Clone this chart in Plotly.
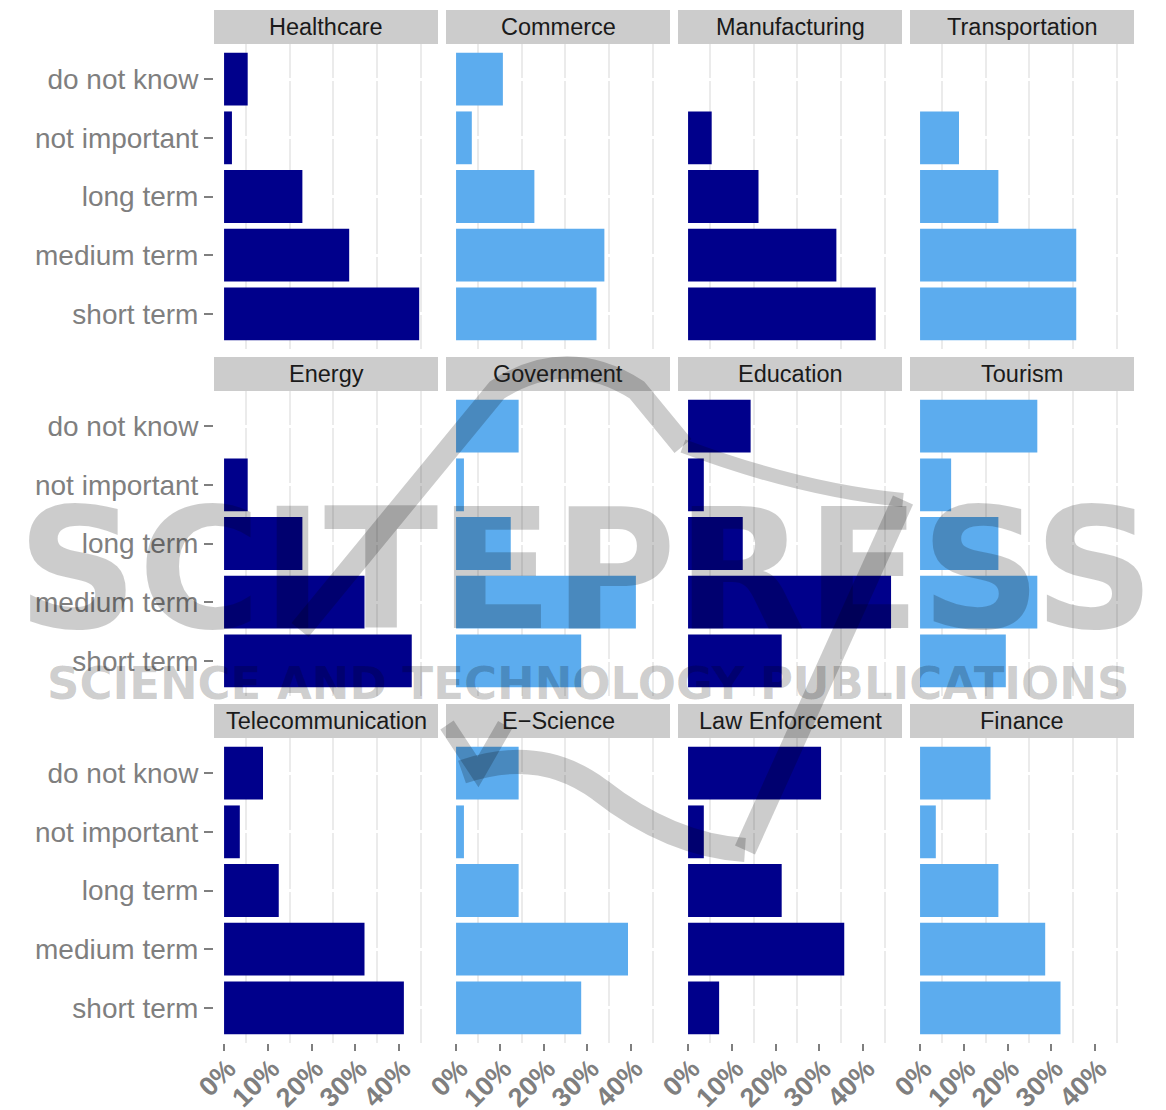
import plotly.graph_objects as go

# Survey answers per sector (share of respondents, %)
categories = ["do not know", "not important", "long term", "medium term", "short term"]

sectors = ["Healthcare", "Commerce", "Manufacturing", "Transportation",
           "Energy", "Government", "Education", "Tourism",
           "Telecommunication", "E\u2212Science", "Law Enforcement", "Finance"]

healthcare = [5.4, 1.8, 17.9, 28.6, 44.6]
commerce = [10.7, 3.6, 17.9, 33.9, 32.1]
manufacturing = [0.0, 5.4, 16.1, 33.9, 42.9]
transportation = [0.0, 8.9, 17.9, 35.7, 35.7]
energy = [0.0, 5.4, 17.9, 32.1, 42.9]
government = [14.3, 1.8, 12.5, 41.1, 28.6]
education = [14.3, 3.6, 12.5, 46.4, 21.4]
tourism = [26.8, 7.1, 17.9, 26.8, 19.6]
telecommunication = [8.9, 3.6, 12.5, 32.1, 41.1]
e_science = [14.3, 1.8, 14.3, 39.3, 28.6]
law_enforcement = [30.4, 3.6, 21.4, 35.7, 7.1]
finance = [16.1, 3.6, 17.9, 28.6, 32.1]

series = [healthcare, commerce, manufacturing, transportation,
          energy, government, education, tourism,
          telecommunication, e_science, law_enforcement, finance]

x_tickvals = [0, 10, 20, 30, 40]
x_ticktext = ["0%", "10%", "20%", "30%", "40%"]

W, H = 1166, 1110
DARK = "#00008B"
LIGHT = "#5CACEE"
GREY = "#7F7F7F"
FONT = "Liberation Sans"

# panel geometry in pixels
PANEL_W, PANEL_H = 224, 305
COL_STEP, ROW_STEP = 232, 347
LEFT0, TOP0 = 214, 44
STRIP_H = 34


def px(x):
    return x / W


def py(y):
    return 1 - y / H


fig = go.Figure()
layout = dict(
    template="none",
    width=W, height=H,
    margin=dict(l=0, r=0, t=0, b=0, pad=0),
    paper_bgcolor="white", plot_bgcolor="white",
    showlegend=False, bargap=0.1,
    font=dict(family=FONT, color=GREY),
)
shapes = []
annotations = []

for i, (name, vals) in enumerate(zip(sectors, series)):
    r, c = divmod(i, 4)
    n = i + 1
    sfx = "" if n == 1 else str(n)
    left = LEFT0 + COL_STEP * c
    top = TOP0 + ROW_STEP * r

    fig.add_trace(go.Bar(
        x=vals, y=categories, orientation="h", width=0.9,
        marker=dict(color=DARK if c % 2 == 0 else LIGHT, line=dict(width=0)),
        xaxis="x" + sfx, yaxis="y" + sfx,
        hovertemplate=name + "<br>%{y}: %{x:.1f}%<extra></extra>",
    ))

    bottom_row = r == 2
    first_col = c == 0

    layout["xaxis" + sfx] = dict(
        domain=[px(left), px(left + PANEL_W)],
        anchor="y" + sfx,
        automargin=False,
        range=[-2.3, 48.9],
        tickmode="array", tickvals=x_tickvals, ticktext=x_ticktext,
        showticklabels=bottom_row,
        ticks="outside" if bottom_row else "",
        ticklen=7, tickwidth=2, tickcolor=GREY,
        tickangle=-45,
        ticklabelstandoff=-9, ticklabelshift=4,
        tickfont=dict(family=FONT, size=27, color=GREY, weight="bold"),
        showgrid=True, gridcolor="white", gridwidth=1,
        minor=dict(tick0=5, dtick=10, showgrid=True,
                   gridcolor="#EBEBEB", gridwidth=1.5, ticks=""),
        zeroline=False, showline=False, fixedrange=True,
    )
    layout["yaxis" + sfx] = dict(
        domain=[py(top + PANEL_H), py(top)],
        anchor="x" + sfx,
        automargin=False,
        type="category",
        categoryorder="array", categoryarray=categories[::-1],
        range=[-0.6, 4.6],
        showticklabels=first_col,
        ticks="outside" if first_col else "",
        ticklen=9, tickwidth=2, tickcolor=GREY,
        tickfont=dict(family=FONT, size=28, color=GREY),
        showgrid=True, gridcolor="white", gridwidth=2.5,
        zeroline=False, showline=False, fixedrange=True,
    )

    # facet strip
    shapes.append(dict(
        type="rect", xref="paper", yref="paper",
        x0=px(left), x1=px(left + PANEL_W),
        y0=py(top), y1=py(top - STRIP_H),
        fillcolor="#CCCCCC", line=dict(width=0), layer="below",
    ))
    annotations.append(dict(
        text=name, xref="paper", yref="paper",
        x=px(left + PANEL_W / 2), y=py(top - STRIP_H / 2),
        xanchor="center", yanchor="middle", showarrow=False,
        font=dict(family=FONT, size=23.5, color="#1A1A1A"),
    ))

# publisher watermark laid over the figure
WM = "rgba(0,0,0,0.2)"
annotations.append(dict(
    text="SCITEPRESS", xref="paper", yref="paper",
    x=px(586), y=py(570), xanchor="center", yanchor="middle",
    showarrow=False, font=dict(family="DejaVu Sans", size=168, color=WM, weight="bold"),
))
annotations.append(dict(
    text="SCIENCE AND TECHNOLOGY PUBLICATIONS", xref="paper", yref="paper",
    x=px(588), y=py(683), xanchor="center", yanchor="middle",
    showarrow=False, font=dict(family="DejaVu Sans", size=45, color=WM, weight="bold"),
))

logo_strokes = [
    # left rising arm and top arc
    ("M {} {} L {} {} Q {} {} {} {} L {} {}".format(
        px(300), py(630), px(497), py(390), px(567), py(345), px(637), py(390),
        px(683), py(446)), 22),
    # gentle curve to the right
    ("M {} {} Q {} {} {} {}".format(px(683), py(446), px(800), py(490), px(903), py(500)), 14),
    # long descending stroke
    ("M {} {} L {} {}".format(px(903), py(500), px(745), py(850)), 22),
    # lower swoosh
    ("M {} {} Q {} {} {} {} Q {} {} {} {}".format(
        px(462), py(772), px(540), py(745), px(600), py(790),
        px(670), py(845), px(745), py(850)), 24),
    # arrow head
    ("M {} {} L {} {} L {} {}".format(px(447), py(725), px(478), py(772), px(505), py(725)), 16),
]
for d, w in logo_strokes:
    shapes.append(dict(type="path", xref="paper", yref="paper", path=d,
                       line=dict(color=WM, width=w), layer="above"))

layout["shapes"] = shapes
layout["annotations"] = annotations
fig.update_layout(**layout)

fig.write_html("out.html")
